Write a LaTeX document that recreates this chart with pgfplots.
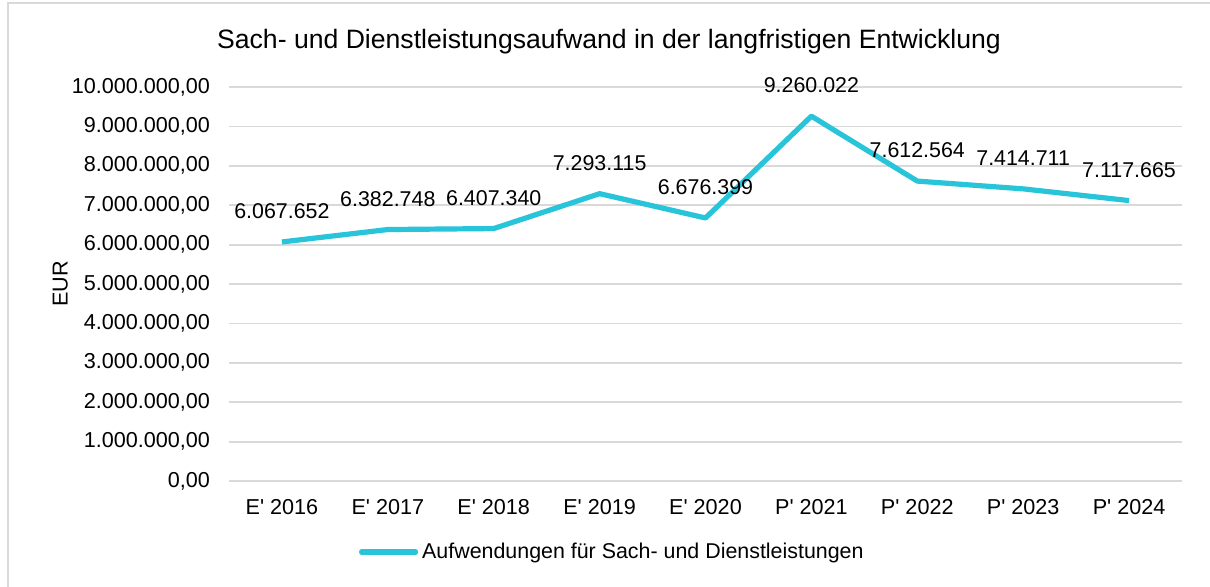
\documentclass[border=0pt]{standalone}
\usepackage{pgfplots}
\pgfplotsset{compat=1.18}
\usepackage{pgfplotstable}
\usepackage{fontspec}
\setmainfont{Liberation Sans}
\definecolor{linec}{RGB}{40,196,218}
\definecolor{gridc}{RGB}{217,217,217}
\pgfplotstableread{
x y label
0 6067652 6.067.652
1 6382748 6.382.748
2 6407340 6.407.340
3 7293115 7.293.115
4 6676399 6.676.399
5 9260022 9.260.022
6 7612564 7.612.564
7 7414711 7.414.711
8 7117665 7.117.665
}\datatable
\begin{document}
\begin{tikzpicture}
\useasboundingbox (0pt,0pt) rectangle (605pt,-293pt);
\draw[gridc, line width=1pt] (4pt,-296pt) -- (4pt,-1.25pt) -- (610pt,-1.25pt);
\node[font=\fontsize{13.3}{15}\selectfont] at (304.5pt,-21pt) {Sach- und Dienstleistungsaufwand in der langfristigen Entwicklung};
\begin{axis}[
  scale only axis,
  width=476.5pt, height=197pt,
  at={(114.5pt,-43.5pt)}, anchor=north west,
  xmin=-0.5, xmax=8.5, ymin=0, ymax=10000000,
  xtick=data,
  xticklabels={E\textquotesingle{} 2016,E\textquotesingle{} 2017,E\textquotesingle{} 2018,E\textquotesingle{} 2019,E\textquotesingle{} 2020,P\textquotesingle{} 2021,P\textquotesingle{} 2022,P\textquotesingle{} 2023,P\textquotesingle{} 2024},
  ytick={0,1000000,2000000,3000000,4000000,5000000,6000000,7000000,8000000,9000000,10000000},
  scaled y ticks=false,
  /pgf/number format/assume math mode=true,
  ymajorgrids,
  grid style={gridc, line width=0.9pt},
  axis line style={draw=none},
  major tick length=0pt,
  tick label style={font=\fontsize{10.8}{12}\selectfont},
  xticklabel style={yshift=-5.5pt},
  yticklabel style={xshift=-6pt, /pgf/number format/.cd, fixed, fixed zerofill, precision=2, use comma, 1000 sep={.}},
  ylabel={EUR},
  ylabel style={at={(rel axis cs:-0.177,0.5)}, anchor=center, font=\fontsize{10.8}{12}\selectfont},
  legend style={at={(rel axis cs:0.136,-0.18)}, anchor=west, draw=none, font=\fontsize{10.7}{12}\selectfont, inner sep=0pt},
  legend image code/.code={\draw[#1, line cap=round] (0pt,0pt) -- (27pt,0pt);},
  clip=false,
]
\addplot[linec, line width=2.6pt, line join=round,
  nodes near coords, point meta=explicit symbolic,
  every node near coord/.append style={anchor=south, yshift=7pt, black, font=\fontsize{10.7}{12}\selectfont}]
  table[x=x, y=y, meta=label] {\datatable};
\addlegendentry{Aufwendungen für Sach- und Dienstleistungen}
\end{axis}
\end{tikzpicture}
\end{document}
